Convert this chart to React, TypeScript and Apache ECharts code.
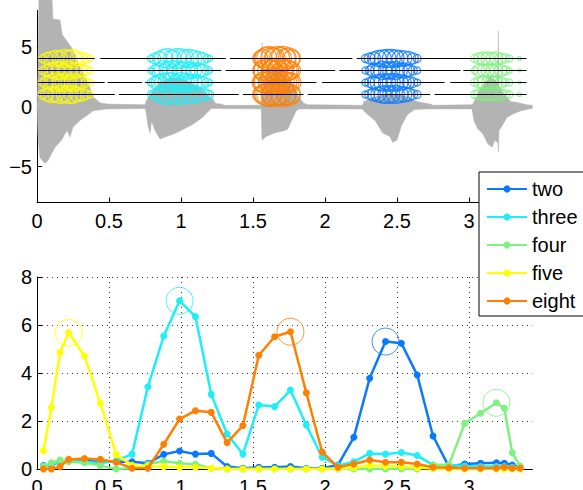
import React, { useEffect, useRef } from "react";
import * as echarts from "echarts";

// ---------- top plot: waveform envelope (time s, amplitude) ----------
const waveUpper: [number, number][] = [
  [0.0, 0], [0.007, 3], [0.014, 9.5], [0.102, 9.5], [0.111, 7.3], [0.16, 7.2], [0.175, 6.0],
  [0.24, 4.9], [0.3, 3.3], [0.36, 1.8], [0.39, 0.8], [0.44, 0.3], [0.49, 0.2], [0.75, 0.15],
  [0.76, 0.5], [0.8, 1.2], [0.85, 2.0], [0.95, 2.4], [1.05, 2.1], [1.15, 1.4], [1.2, 0.8],
  [1.22, 0.65], [1.24, 0.25], [1.28, 0.2], [1.3, 0.1], [1.557, 0.1], [1.5625, 5.3], [1.568, 1.5],
  [1.6, 2.6], [1.65, 3.0], [1.72, 2.6], [1.78, 1.8], [1.82, 0.8], [1.85, 0.3], [1.88, 0.15],
  [2.26, 0.1], [2.27, 0.4], [2.32, 0.7], [2.45, 1.1], [2.55, 0.9], [2.62, 0.5], [2.66, 0.35],
  [2.73, 0.2], [2.75, 0.1], [3.02, 0.15], [3.03, 0.3], [3.08, 1.5], [3.15, 2.5], [3.2, 2.0],
  [3.204, 6.3], [3.208, 1.6], [3.264, 0.75], [3.29, 0.4], [3.33, 0.35], [3.4, 0.15], [3.44, 0.1],
];
const waveLower: [number, number][] = [
  [0.0, 0], [0.007, -2.5], [0.02, -4.25], [0.056, -4.75], [0.076, -4.5], [0.125, -3.4],
  [0.17, -2.8], [0.208, -2.0], [0.229, -2.55], [0.25, -1.7], [0.3, -1.15], [0.347, -0.75],
  [0.39, -0.35], [0.486, -0.2], [0.75, -0.17], [0.757, -0.4], [0.771, -1.6], [0.785, -2.2],
  [0.795, -1.2], [0.82, -2.0], [0.854, -2.7], [0.9, -2.5], [0.95, -2.3], [1.0, -2.0],
  [1.08, -1.5], [1.15, -0.9], [1.19, -0.4], [1.21, -0.17], [1.557, -0.2], [1.5625, -2.8],
  [1.59, -2.5], [1.65, -2.2], [1.72, -2.0], [1.74, -1.9], [1.775, -1.0], [1.8, -0.35],
  [1.82, -0.2], [2.26, -0.2], [2.28, -0.5], [2.35, -1.2], [2.4, -2.2], [2.45, -2.5],
  [2.47, -3.0], [2.5, -2.8], [2.53, -1.6], [2.57, -0.7], [2.62, -0.25], [2.7, -0.2],
  [3.02, -0.2], [3.035, -1.2], [3.06, -1.85], [3.097, -2.3], [3.13, -3.1], [3.16, -3.4],
  [3.18, -2.8], [3.2, -3.0], [3.204, -3.8], [3.208, -2.0], [3.23, -1.6], [3.264, -0.9],
  [3.31, -0.6], [3.36, -0.35], [3.44, -0.15],
];

// horizontal reference lines (rows) and their gaps
const rowLevels = [1, 2, 3, 4];
const rowStart = 0.01;
const rowEnd = 3.4;
const rowGaps: [number, number][][] = [
  [[0.54, 0.57], [1.4, 1.43], [1.85, 1.88], [2.73, 2.76]],
  [[0.47, 0.49], [0.73, 0.75], [1.94, 1.98], [2.83, 2.87]],
  [[1.28, 1.31], [2.07, 2.1], [2.94, 2.96]],
  [[0.4, 0.44], [1.31, 1.34], [2.19, 2.22]],
];

// frame circles per word: times and diameters per row (rows 1..4)
const fiveFrameT = [0.04, 0.07, 0.1, 0.13, 0.16, 0.19, 0.22, 0.25, 0.28, 0.31, 0.34, 0.37];
const fiveFrameSize = [
  [9, 13, 16, 15, 18, 16, 18, 17, 14, 13, 10, 7],
  [8, 13, 15, 18, 16, 18, 15, 17, 15, 12, 9, 6],
  [8, 12, 15, 17, 18, 15, 18, 16, 14, 12, 10, 6],
  [8, 12, 14, 16, 15, 18, 16, 18, 14, 12, 9, 6],
];
const threeFrameT = [0.79, 0.82, 0.85, 0.88, 0.91, 0.94, 0.97, 1.0, 1.03, 1.06, 1.09, 1.12, 1.15, 1.18, 1.2];
const threeFrameSize = [
  [7, 11, 15, 19, 20, 18, 20, 17, 19, 16, 18, 15, 13, 10, 8],
  [7, 12, 16, 18, 20, 19, 17, 20, 18, 17, 16, 14, 12, 9, 6],
  [6, 11, 15, 19, 18, 20, 19, 17, 19, 16, 15, 15, 12, 9, 6],
  [7, 11, 14, 18, 20, 17, 20, 19, 17, 18, 16, 14, 12, 8, 6],
];
const eightFrameT = [1.55, 1.57, 1.59, 1.61, 1.63, 1.65, 1.67, 1.69, 1.71, 1.73, 1.75, 1.77];
const eightFrameSize = [
  [15, 19, 22, 24, 21, 24, 22, 21, 24, 20, 22, 17],
  [16, 20, 23, 21, 24, 22, 24, 21, 22, 21, 20, 18],
  [15, 19, 24, 22, 21, 24, 21, 24, 21, 22, 19, 17],
  [15, 18, 22, 24, 22, 21, 24, 22, 24, 20, 21, 17],
];
const twoFrameT = [2.28, 2.31, 2.34, 2.37, 2.4, 2.43, 2.46, 2.49, 2.52, 2.55, 2.58, 2.61, 2.64];
const twoFrameSize = [
  [7, 10, 13, 15, 17, 18, 17, 18, 16, 15, 13, 10, 8],
  [7, 10, 13, 16, 17, 17, 18, 17, 16, 14, 12, 10, 7],
  [7, 9, 14, 15, 18, 17, 17, 18, 15, 15, 12, 9, 7],
  [8, 11, 13, 16, 17, 18, 18, 17, 16, 15, 14, 11, 8],
];
const fourFrameT = [3.04, 3.07, 3.1, 3.13, 3.16, 3.19, 3.22, 3.25, 3.28, 3.35];
const fourFrameSize = [
  [8, 11, 12, 13, 12, 13, 11, 9, 7, 4],
  [8, 11, 13, 12, 13, 12, 11, 8, 7, 3],
  [7, 12, 12, 13, 12, 13, 12, 9, 6, 3],
  [8, 11, 13, 13, 12, 13, 11, 9, 7, 4],
];

// ---------- bottom plot: scores ----------
const times = [0.045, 0.1, 0.16, 0.22, 0.33, 0.44, 0.55, 0.66, 0.77, 0.88, 0.99, 1.1, 1.21, 1.32,
  1.43, 1.54, 1.65, 1.76, 1.87, 1.98, 2.09, 2.2, 2.31, 2.42, 2.53, 2.64, 2.75, 2.86, 2.97, 3.08,
  3.19, 3.245, 3.3, 3.355];
const twoScores = [0.14, 0.17, 0.3, 0.37, 0.33, 0.3, 0.3, 0.3, 0.24, 0.61, 0.75, 0.62, 0.65, 0.1,
  0.03, 0.07, 0.07, 0.1, 0.03, 0.03, 0.17, 1.32, 3.78, 5.31, 5.24, 3.92, 1.375, 0.1, 0.21, 0.24,
  0.26, 0.24, 0.17, 0.07];
const threeScores = [0.12, 0.2, 0.3, 0.33, 0.3, 0.24, 0.35, 0.62, 3.43, 5.54, 7.01, 6.35, 3.11,
  1.46, 0.62, 2.67, 2.6, 3.29, 1.83, 0.49, 0.14, 0.3, 0.65, 0.62, 0.69, 0.56, 0.17, 0.17, 0.12,
  0.1, 0.1, 0.1, 0.07, 0.07];
const fourScores = [0.1, 0.26, 0.37, 0.3, 0.26, 0.14, 0.0, 0.03, 0.2, 0.33, 0.24, 0.2, 0.03, 0,
  0, 0, 0, 0, 0, 0, 0, 0, 0, 0, 0, 0, 0.17, 0.17, 1.9, 2.32, 2.76, 2.53, 0.68, 0.12];
const fiveScores = [0.76, 2.56, 4.86, 5.68, 4.71, 2.74, 0.61, 0.15, 0.1, 0.1, 0.07, 0.07, 0.03,
  0, 0, 0, 0, 0, 0, 0, 0.02, 0.05, 0.15, 0.12, 0.1, 0.05, 0.02, 0, 0, 0, 0, 0, 0, 0];
const eightScores = [0, 0, 0.1, 0.4, 0.44, 0.4, 0.28, 0.03, 0.03, 1.03, 2.08, 2.43, 2.36, 1.1,
  1.81, 4.74, 5.51, 5.72, 3.18, 0.71, 0.07, 0.21, 0.375, 0.28, 0.28, 0.21, 0.07, 0.05, 0.03,
  0.03, 0.03, 0.07, 0.03, 0.03];

const seriesNames = ["two", "three", "four", "five", "eight"];
const seriesColors = ["#0a78ff", "#1eeef8", "#80f080", "#ffff00", "#ff8000"];
const xTicks = [0, 0.5, 1, 1.5, 2, 2.5, 3];
const topYTicks = [-5, 0, 5];

const FONT = "'Liberation Sans', Arial, Helvetica, sans-serif";

export default function App() {
  const ref = useRef<HTMLDivElement>(null);
  useEffect(() => {
    if (!ref.current) return;
    const chart = echarts.init(ref.current, undefined, { renderer: "svg" });

    const scoreSets = [twoScores, threeScores, fourScores, fiveScores, eightScores];
    const frameSets = [
      [twoFrameT, twoFrameSize],
      [threeFrameT, threeFrameSize],
      [fourFrameT, fourFrameSize],
      [fiveFrameT, fiveFrameSize],
      [eightFrameT, eightFrameSize],
    ] as [number[], number[][]][];

    const axisLineStyle = { color: "#000", width: 1 };
    const labelStyle = { color: "#000", fontSize: 20, fontFamily: FONT };
    const dotted = { color: "#333", width: 1, type: [1, 4] as any };

    const xAxisBase = (gridIndex: number, grid: boolean) => ({
      type: "value",
      gridIndex,
      min: 0,
      max: 3.44,
      axisLine: { show: true, onZero: false, lineStyle: axisLineStyle },
      axisTick: { show: true, inside: true, length: 5, customValues: xTicks, lineStyle: axisLineStyle },
      axisLabel: { ...labelStyle, margin: 8, customValues: xTicks },
      splitLine: { show: grid, lineStyle: dotted },
    });

    const series: any[] = [];

    // waveform
    series.push({
      type: "custom",
      name: "wave",
      xAxisIndex: 0,
      yAxisIndex: 0,
      coordinateSystem: "cartesian2d",
      clip: false,
      silent: true,
      z: 1,
      data: [[0, 0]],
      renderItem: (params: any, api: any) => {
        const pts = [
          ...waveUpper.map((p) => api.coord(p)),
          ...waveLower.slice().reverse().map((p) => api.coord(p)),
        ];
        return { type: "polygon", shape: { points: pts }, style: { fill: "#b3b3b3", stroke: "#b3b3b3", lineWidth: 0.5 } };
      },
    });

    // frame circles
    frameSets.forEach(([ts, sizes], si) => {
      const data: number[][] = [];
      rowLevels.forEach((r, ri) => {
        ts.forEach((t, ti) => data.push([t, r, sizes[ri][ti]]));
      });
      series.push({
        type: "scatter",
        name: seriesNames[si] + " frames",
        xAxisIndex: 0,
        yAxisIndex: 0,
        data,
        symbol: "circle",
        symbolSize: (v: number[]) => v[2],
        itemStyle: { color: "rgba(0,0,0,0)", borderColor: seriesColors[si], borderWidth: 1.2 },
        z: 3,
        silent: true,
      });
    });

    // row lines
    rowLevels.forEach((r, ri) => {
      const pts: any[] = [[rowStart, r]];
      rowGaps[ri].forEach(([gs, ge]) => {
        pts.push([gs, r], [(gs + ge) / 2, null], [ge, r]);
      });
      pts.push([rowEnd, r]);
      series.push({
        type: "line",
        name: "row" + r,
        xAxisIndex: 0,
        yAxisIndex: 0,
        data: pts,
        showSymbol: false,
        symbol: "none",
        connectNulls: false,
        lineStyle: { color: "#000", width: 1 },
        z: 4,
      });
    });

    // score lines
    scoreSets.forEach((vals, si) => {
      series.push({
        type: "line",
        name: seriesNames[si],
        xAxisIndex: 1,
        yAxisIndex: 1,
        data: times.map((t, i) => [t, vals[i]]),
        symbol: "circle",
        symbolSize: 7,
        showAllSymbol: true,
        lineStyle: { color: seriesColors[si], width: 2.5 },
        itemStyle: { color: seriesColors[si] },
        z: 5 + si,
      });
    });

    // peak rings
    scoreSets.forEach((vals, si) => {
      let mi = 0;
      vals.forEach((v, i) => {
        if (v > vals[mi]) mi = i;
      });
      series.push({
        type: "scatter",
        name: seriesNames[si] + " peak",
        xAxisIndex: 1,
        yAxisIndex: 1,
        data: [[times[mi], vals[mi]]],
        symbol: "circle",
        symbolSize: 27,
        itemStyle: { color: "rgba(0,0,0,0)", borderColor: seriesColors[si], borderWidth: 1 },
        z: 20,
        silent: true,
      });
    });

    chart.setOption({
      animation: false,
      textStyle: { fontFamily: FONT },
      grid: [
        { left: 37, top: 10.5, width: 495.4, height: 192, containLabel: false, outerBoundsMode: "none" },
        { left: 37, top: 277, width: 495.4, height: 192, containLabel: false, outerBoundsMode: "none" },
      ],
      xAxis: [xAxisBase(0, false), xAxisBase(1, true)],
      yAxis: [
        {
          type: "value",
          gridIndex: 0,
          min: -8,
          max: 8,
          axisLine: { show: true, lineStyle: axisLineStyle },
          axisTick: { show: true, inside: true, length: 5, customValues: topYTicks, lineStyle: axisLineStyle },
          axisLabel: {
            ...labelStyle,
            margin: 5,
            customValues: topYTicks,
            formatter: (v: number) => (v < 0 ? "\u2212" + -v : String(v)),
          },
          splitLine: { show: false },
        },
        {
          type: "value",
          gridIndex: 1,
          min: 0,
          max: 8,
          interval: 2,
          axisLine: { show: true, lineStyle: axisLineStyle },
          axisTick: { show: true, inside: true, length: 5, lineStyle: axisLineStyle },
          axisLabel: { ...labelStyle, margin: 5 },
          splitLine: { show: true, lineStyle: dotted },
        },
      ],
      legend: {
        data: seriesNames,
        orient: "vertical",
        left: 479,
        top: 172,
        backgroundColor: "#fff",
        borderColor: "#000",
        borderWidth: 1,
        borderRadius: 0,
        padding: [7, 10, 5, 7],
        itemWidth: 40,
        itemHeight: 9,
        itemGap: 8,
        textStyle: { color: "#000", fontSize: 20, fontFamily: FONT },
        z: 50,
      },
      series,
    });

    return () => chart.dispose();
  }, []);

  return (
    <div
      ref={ref}
      style={{ position: "fixed", left: 0, top: 0, width: 583, height: 490, background: "#fff" }}
    />
  );
}
